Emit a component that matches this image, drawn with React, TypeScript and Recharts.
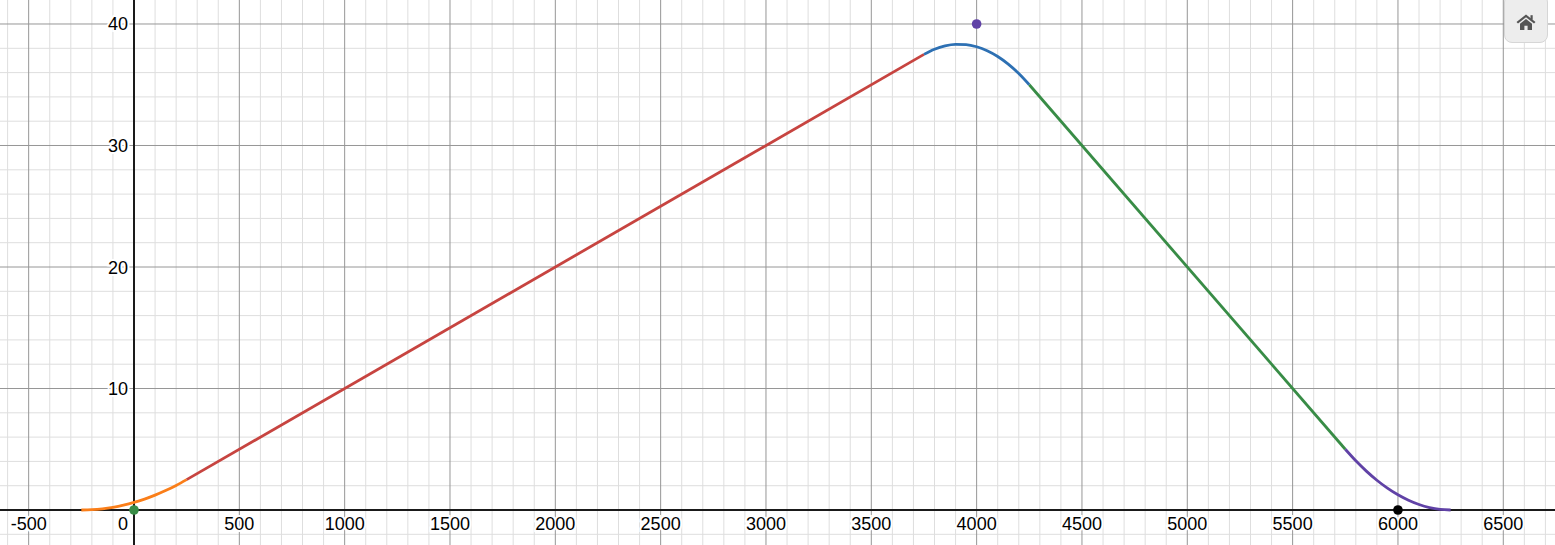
import React from 'react';
import {
  ComposedChart,
  Line,
  Scatter,
  XAxis,
  YAxis,
  ReferenceLine,
} from 'recharts';

// piecewise curve
const orangePart = [
  { x: -250, y: 0 },
  { x: -200, y: 0.025 },
  { x: -150, y: 0.1 },
  { x: -100, y: 0.225 },
  { x: -50, y: 0.4 },
  { x: 0, y: 0.625 },
  { x: 50, y: 0.9 },
  { x: 100, y: 1.225 },
  { x: 150, y: 1.6 },
  { x: 200, y: 2.025 },
  { x: 250, y: 2.5 },
];
const redPart = [
  { x: 250, y: 2.5 },
  { x: 3750, y: 37.5 },
];
const bluePart = [
  { x: 3750, y: 37.5 },
  { x: 3800, y: 37.925 },
  { x: 3850, y: 38.2 },
  { x: 3900, y: 38.325 },
  { x: 3950, y: 38.3 },
  { x: 4000, y: 38.125 },
  { x: 4050, y: 37.8 },
  { x: 4100, y: 37.325 },
  { x: 4150, y: 36.7 },
  { x: 4200, y: 35.925 },
  { x: 4250, y: 35 },
];
const greenPart = [
  { x: 4250, y: 35 },
  { x: 5750, y: 5 },
];
const purplePart = [
  { x: 5750, y: 5 },
  { x: 5800, y: 4.05 },
  { x: 5850, y: 3.2 },
  { x: 5900, y: 2.45 },
  { x: 5950, y: 1.8 },
  { x: 6000, y: 1.25 },
  { x: 6050, y: 0.8 },
  { x: 6100, y: 0.45 },
  { x: 6150, y: 0.2 },
  { x: 6200, y: 0.05 },
  { x: 6250, y: 0 },
];

const greenDot = [{ x: 0, y: 0 }];
const purpleDot = [{ x: 4000, y: 40 }];
const blackDot = [{ x: 6000, y: 0 }];

const xTickLabels = [-500, 0, 500, 1000, 1500, 2000, 2500, 3000, 3500, 4000, 4500, 5000, 5500, 6000, 6500];
const yTickLabels = [10, 20, 30, 40];

const W = 1555;
const H = 545;
const X_DOMAIN: [number, number] = [-636.1, 6745.5];
const Y_DOMAIN: [number, number] = [-2.88, 41.975];

// grid positions
const minorX = Array.from({ length: 74 }, (_, i) => -600 + i * 100).filter((v) => v % 500 !== 0);
const majorX = Array.from({ length: 15 }, (_, i) => -500 + i * 500).filter((v) => v !== 0);
const minorY = Array.from({ length: 22 }, (_, i) => -2 + i * 2).filter((v) => v % 10 !== 0);
const majorY = [10, 20, 30, 40];

const FONT = '"Liberation Sans", Arial, sans-serif';
const labelStyle = {
  fontFamily: FONT,
  fontSize: 18,
  fill: '#000',
  stroke: '#fff',
  strokeWidth: 4,
  paintOrder: 'stroke' as const,
};

const XLabel = (p: any) => {
  const v = p.payload.x;
  if (v === 0) {
    return (
      <text x={p.cx - 6} y={p.cy + 20} textAnchor="end" style={labelStyle}>
        0
      </text>
    );
  }
  return (
    <text x={p.cx} y={p.cy + 20} textAnchor="middle" style={labelStyle}>
      {v < 0 ? '-' + Math.abs(v) : v}
    </text>
  );
};

const YLabel = (p: any) => (
  <text x={p.cx - 6} y={p.cy + 6.5} textAnchor="end" style={labelStyle}>
    {p.payload.y}
  </text>
);

const Dot = (color: string) => (p: any) => <circle cx={p.cx} cy={p.cy} r={4.8} fill={color} />;

const LW = 2.8;

export default function App() {
  return (
    <div style={{ position: 'absolute', left: 0, top: 0, width: W, height: H, overflow: 'hidden', background: '#fff' }}>
      <ComposedChart width={W} height={H} margin={{ top: 0, right: 0, bottom: 0, left: 0 }}>
        <XAxis type="number" dataKey="x" domain={X_DOMAIN} allowDataOverflow hide />
        <YAxis type="number" dataKey="y" domain={Y_DOMAIN} allowDataOverflow hide />

        {minorX.map((v) => (
          <ReferenceLine key={'mx' + v} x={v} stroke="#dedede" strokeWidth={1} />
        ))}
        {minorY.map((v) => (
          <ReferenceLine key={'my' + v} y={v} stroke="#dedede" strokeWidth={1} />
        ))}
        {majorX.map((v) => (
          <ReferenceLine key={'Mx' + v} x={v} stroke="#969696" strokeWidth={1} />
        ))}
        {majorY.map((v) => (
          <ReferenceLine key={'My' + v} y={v} stroke="#969696" strokeWidth={1} />
        ))}
        <ReferenceLine x={0} stroke="#1a1a1a" strokeWidth={2} />
        <ReferenceLine y={0} stroke="#1a1a1a" strokeWidth={2} />

        <Line data={orangePart} dataKey="y" type="monotone" stroke="#fa7e19" strokeWidth={LW} dot={false} isAnimationActive={false} />
        <Line data={redPart} dataKey="y" type="linear" stroke="#c74440" strokeWidth={LW} dot={false} isAnimationActive={false} />
        <Line data={bluePart} dataKey="y" type="monotone" stroke="#2d70b3" strokeWidth={LW} dot={false} isAnimationActive={false} />
        <Line data={greenPart} dataKey="y" type="linear" stroke="#388c46" strokeWidth={LW} dot={false} isAnimationActive={false} />
        <Line data={purplePart} dataKey="y" type="monotone" stroke="#6042a6" strokeWidth={LW} dot={false} isAnimationActive={false} />

        <Scatter data={xTickLabels.map((x) => ({ x, y: 0 }))} dataKey="y" shape={XLabel} isAnimationActive={false} />
        <Scatter data={yTickLabels.map((y) => ({ x: 0, y }))} dataKey="y" shape={YLabel} isAnimationActive={false} />

        <Scatter data={greenDot} dataKey="y" shape={Dot('#388c46')} isAnimationActive={false} />
        <Scatter data={purpleDot} dataKey="y" shape={Dot('#6042a6')} isAnimationActive={false} />
        <Scatter data={blackDot} dataKey="y" shape={Dot('#000000')} isAnimationActive={false} />
      </ComposedChart>

      {/* home button */}
      <div
        style={{
          position: 'absolute',
          left: 1504,
          top: -6,
          width: 44,
          height: 49,
          background: '#ededed',
          border: '1px solid #d6d6d6',
          borderRadius: 8,
          boxSizing: 'border-box',
        }}
      >
        <svg width={20} height={16} viewBox="0 0 20 16" style={{ position: 'absolute', left: 11, top: 19 }}>
          <polygon points="10,0.5 19.5,8 18,9.6 10,3.3 2,9.6 0.5,8" fill="#555" />
          <rect x={14.5} y={1.2} width={2.2} height={4.5} fill="#555" />
          <polygon points="10,5 16,9.8 16,16 11.6,16 11.6,11.8 8.4,11.8 8.4,16 4,16 4,9.8" fill="#555" />
        </svg>
      </div>
    </div>
  );
}
